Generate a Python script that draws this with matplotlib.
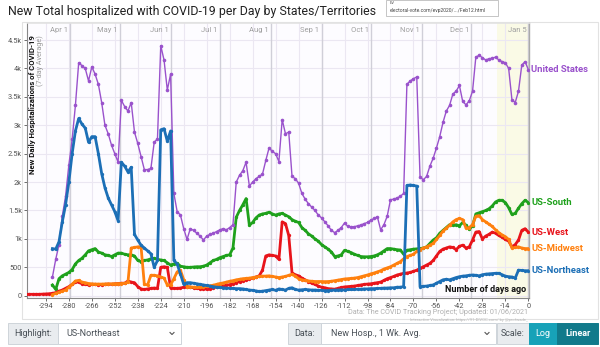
import numpy as np
import matplotlib.pyplot as plt
from matplotlib.patches import Rectangle
from matplotlib.lines import Line2D
import matplotlib.transforms as mtransforms

plt.rcParams['font.family'] = ['Roboto', 'DejaVu Sans']

nan = float('nan')
days = list(range(-306, 1, 2))

united_states = [nan]*8 + [330, 640,
    900, 1400, 1750, 2300, 2750, 3350, 4100, 4050, 4000, 3780,
    4030, 3900, 3720, 3400, 3000, 2850, 2650, 2500, 2350, 3440,
    3330, 3250, 3400, 2880, 2680, 2450, 2220, 2220, 2240, 2700,
    2760, 4400, 4150, 3620, 3900, 1800, 1480, 1420, 1180, 990,
    1180, 1150, 1100, 1050, 980, 1050, 1080, 1100, 1130, 1160,
    1180, 1160, 1200, 1250, 2000, 2120, 2200, 2350, 1930, 2000,
    2060, 2100, 2140, 2380, 2600, 2540, 2500, 2360, 3100, 2850,
    2880, 2100, 2060, 1980, 1800, 1700, 1620, 1560, 1500, 1420,
    1370, 1300, 1230, 1150, 1110, 1150, 1200, 1280, 1220, 1210,
    1215, 1230, 1245, 1270, 1290, 1330, 1360, 1390, 1160, 1250,
    1400, 1690, 1700, 1720, 1750, 1800, 3720, 3780, 3820, 3850,
    2090, 2040, 2100, 2280, 2420, 2600, 2800, 3050, 3250, 3350,
    3550, 3600, 3700, 3420, 3360, 3430, 3600, 4200, 4230, 4190,
    4150, 4170, 4180, 4200, 4150, 4120, 4100, 4000, 3450, 3400,
    3600, 4060, 4120, 3980]

us_northeast = [nan]*8 + [830, 820,
    950, 1300, 1600, 2000, 2500, 2900, 3120, 3020, 2950, 2700,
    2800, 2800, 2500, 2150, 1900, 1720, 1600, 1480, 1320, 2350,
    2280, 2180, 2260, 1080, 980, 890, 840, 790, 740, 500,
    620, 2920, 2940, 2720, 2900, 620, 560, 380, 200, 230,
    230, 220, 210, 200, 190, 180, 170, 160, 150, 145,
    140, 135, 130, 130, 125, 125, 120, 110, 100, 95,
    85, 75, 80, 90, 100, 110, 95, 120, 110, 100,
    130, 140, 110, 100, 105, 110, 105, 100, 100, 95,
    95, 90, 90, 95, 100, 100, 105, 100, 110, 110,
    110, 115, 115, 120, 120, 125, 125, 130, 130, 135,
    135, 140, 140, 150, 150, 160, 1940, 1950, 1940, 1930,
    160, 165, 170, 180, 190, 220, 250, 280, 290, 280,
    300, 320, 335, 345, 350, 360, 365, 360, 350, 370,
    380, 385, 390, 395, 395, 370, 345, 335, 330, 310,
    450, 445, 440, 440]

us_south = [nan]*8 + [190, 110,
    300, 350, 380, 410, 460, 560, 620, 660, 720, 790,
    810, 830, 770, 750, 720, 710, 690, 720, 750, 750,
    730, 720, 720, 700, 620, 600, 620, 630, 650, 660,
    640, 630, 620, 580, 540, 560, 570, 520, 510, 500,
    500, 505, 510, 510, 520, 540, 580, 620, 640, 670,
    690, 710, 720, 840, 1380, 1500, 1600, 1710, 1240, 1290,
    1370, 1420, 1440, 1450, 1470, 1440, 1420, 1440, 1450, 1420,
    1390, 1340, 1310, 1290, 1200, 1150, 1090, 1050, 1000, 960,
    900, 860, 820, 770, 690, 700, 720, 800, 780, 760,
    730, 710, 690, 685, 685, 690, 700, 720, 750, 790,
    830, 830, 820, 810, 805, 730, 800, 810, 820, 825,
    830, 840, 860, 920, 980, 1020, 1100, 1150, 1200, 1250,
    1240, 1250, 1230, 1290, 1240, 1170, 1230, 1440, 1460, 1480,
    1500, 1530, 1580, 1650, 1680, 1680, 1640, 1550, 1430, 1450,
    1540, 1620, 1680, 1640]

us_west = [25, 25, 25, 25, 25, 28, 30, 35, 42, 55,
    80, 100, 130, 160, 200, 240, 240, 210, 200, 190,
    200, 200, 190, 195, 200, 205, 200, 210, 215, 220,
    220, 260, 240, 230, 160, 120, 110, 120, 130, 135,
    130, 500, 510, 500, 140, 130, 130, 135, 150, 160,
    150, 140, 130, 125, 120, 115, 120, 140, 155, 165,
    175, 185, 195, 210, 230, 250, 265, 280, 300, 310,
    330, 350, 450, 700, 720, 710, 700, 640, 1300, 1270,
    1060, 400, 370, 350, 310, 280, 250, 220, 200, 170,
    150, 140, 125, 120, 115, 130, 145, 155, 160, 165,
    170, 180, 190, 200, 205, 210, 220, 230, 240, 270,
    300, 320, 340, 365, 380, 395, 400, 410, 430, 450,
    480, 510, 540, 570, 620, 700, 780, 820, 840, 860,
    850, 810, 870, 890, 840, 860, 980, 1120, 1130, 1000,
    1050, 1080, 1120, 1100, 1060, 1030, 990, 960, 860, 900,
    980, 1150, 1180, 1120]

us_midwest = [nan]*8 + [20, 40,
    60, 80, 100, 150, 200, 260, 270, 240, 230, 215,
    210, 205, 205, 205, 208, 210, 210, 212, 215, 215,
    220, 235, 840, 850, 860, 860, 200, 190, 360, 360,
    350, 330, 310, 190, 190, 300, 420, 450, 280, 160,
    155, 150, 150, 150, 155, 165, 175, 185, 200, 215,
    225, 240, 255, 265, 280, 290, 300, 305, 310, 320,
    330, 340, 345, 345, 350, 340, 330, 320, 330, 340,
    360, 375, 345, 300, 280, 270, 260, 255, 250, 250,
    250, 248, 250, 255, 265, 275, 285, 295, 300, 305,
    310, 320, 335, 350, 365, 385, 400, 420, 440, 470,
    490, 510, 540, 570, 600, 650, 690, 710, 730, 780,
    810, 840, 860, 890, 920, 990, 1060, 1140, 1190, 1240,
    1300, 1340, 1360, 1340, 1190, 1200, 1250, 1400, 1410, 1340,
    1300, 1260, 1220, 1160, 1110, 1070, 1040, 990, 840, 850,
    860, 840, 830, 830]

x_ticks = list(range(-294, 1, 14))
y_ticks = [0, 500, 1000, 1500, 2000, 2500, 3000, 3500, 4000, 4500]
y_tick_labels = ['0', '500', '1k', '1.5k', '2k', '2.5k', '3k', '3.5k', '4k', '4.5k']
month_days = [-279, -249, -218, -188, -157, -126, -96, -65, -35, 0]
month_labels = ['Apr 1', 'May 1', 'Jun 1', 'Jul 1', 'Aug 1', 'Sep 1', 'Oct 1', 'Nov 1', 'Dec 1', 'Jan 5']

# name, values, color, linewidth, markersize
series = [
    ('US-South', us_south, '#1fa11c', 2.0, 2.4),
    ('US-West', us_west, '#e8141b', 2.0, 2.4),
    ('US-Midwest', us_midwest, '#ff800e', 2.0, 2.4),
    ('United States', united_states, '#9a52cc', 1.0, 2.6),
    ('US-Northeast', us_northeast, '#1c6fb6', 2.0, 2.4),
]

W, H = 600, 347
fig = plt.figure(figsize=(W / 100, H / 100), dpi=100)

def fx(x):
    return x / W

def fy(y):
    return 1 - y / H

# chart panel border
fig.patches.append(Rectangle((fx(22), fy(319)), (598 - 22) / W, (319 - 22) / H,
                             transform=fig.transFigure, facecolor='none',
                             edgecolor='#e2e2e2', lw=0.8, zorder=-1))

ax = fig.add_axes([fx(27), fy(298), (529 - 27) / W, (298 - 23) / H])
ax.set_zorder(2)
ax.set_facecolor('#fdfcff')
ax.set_xlim(-305.5, 0.4)
ax.set_ylim(-40, 4800)

ax.axvspan(-19, 0.4, color='#fafae6', zorder=0, lw=0)
for d in x_ticks:
    ax.axvline(d, color='#ebe7f2', lw=0.8, zorder=1)
for v in y_ticks:
    ax.axhline(v, color='#ebe7f2', lw=0.8, zorder=1)
for d in month_days:
    ax.axvline(d, color='#d0cfd8', lw=1.0, zorder=1)

trans = mtransforms.blended_transform_factory(ax.transData, ax.transAxes)
for d, lab in zip(month_days, month_labels):
    ax.text(d - 1.3, 0.975, lab, transform=trans, ha='right', va='center',
            fontsize=5.5, color='#a0a0a0')

x = np.array(days)
for name, vals, col, lw, ms in series:
    y = np.array(vals, dtype=float)
    ax.plot(x, y, color=col, lw=lw, marker='o', ms=ms, mew=0, zorder=3)
    last = y[~np.isnan(y)][-1]
    ax.text(1.8, last, name, color=col, fontsize=6.8, fontweight='bold',
            va='center', ha='left', clip_on=False)

ax.set_xticks(x_ticks)
ax.set_xticklabels([str(t) for t in x_ticks])
ax.set_yticks(y_ticks)
ax.set_yticklabels(y_tick_labels)
ax.tick_params(axis='both', labelsize=5.3, colors='#555555', length=2.5, width=0.6, pad=1.2)
for s in ['left', 'bottom']:
    ax.spines[s].set_color('#888888')
    ax.spines[s].set_linewidth(0.8)
ax.spines['right'].set_color('#aaaaaa')
ax.spines['right'].set_linewidth(1.0)
ax.spines['top'].set_color('#e2e2e2')
ax.spines['top'].set_linewidth(0.6)

# y-label inside the plot
fig.text(fx(32.5), fy(35), 'New Daily Hospitalizations of COVID-19', rotation=90,
         ha='center', va='top', fontsize=5.6, fontweight='bold', color='#111111', zorder=10)
fig.text(fx(40.5), fy(35), '(7-day Average)', rotation=90, ha='center', va='top',
         fontsize=5.2, color='#999999', zorder=10)

fig.text(fx(526), fy(289), 'Number of days ago', ha='right', va='center',
         fontsize=6.5, fontweight='bold', color='#111111', zorder=10)

# title
fig.text(fx(8), fy(12), 'New Total hospitalized with COVID-19 per Day by States/Territories',
         ha='left', va='center', fontsize=8.9, color='#222222')

# browser tooltip overlay
fig.patches.append(Rectangle((fx(386), fy(16)), (498 - 386) / W, 16 / H,
                             transform=fig.transFigure, facecolor='white',
                             edgecolor='#bbbbbb', lw=0.6, zorder=5))
fig.text(fx(390), fy(3), 'EV', fontsize=3.0, color='#555555', va='center', zorder=6)
fig.text(fx(390), fy(10.5), 'electoral-vote.com/evp2020/.../Feb12.html', fontsize=3.6,
         color='#444444', va='center', zorder=6)

# source lines
fig.text(fx(528), fy(313), 'Data: The COVID Tracking Project; Updated: 01/06/2021',
         ha='right', va='center', fontsize=5.2, color='#b0b0b0')
fig.text(fx(528), fy(319.5), 'Interactive Visualization: https://91-DIVOC.com/ by @profwade_',
         ha='right', va='center', fontsize=3.0, color='#b8b8b8')

# control bar
def box(x0, x1, face, edge='#ced4da'):
    fig.patches.append(Rectangle((fx(x0), fy(344)), (x1 - x0) / W, (344 - 323) / H,
                                 transform=fig.transFigure, facecolor=face,
                                 edgecolor=edge, lw=0.7, zorder=5))

def chevron(xc):
    fig.lines.append(Line2D([fx(xc - 2), fx(xc), fx(xc + 2)],
                            [fy(332.5), fy(334.5), fy(332.5)],
                            transform=fig.transFigure, color='#555555', lw=0.8, zorder=6))

box(8, 58, '#e9ecef')
fig.text(fx(14), fy(333.5), 'Highlight:', fontsize=6.5, color='#495057', va='center', zorder=6)
box(58, 181, 'white')
fig.text(fx(66), fy(333.5), 'US-Northeast', fontsize=6.5, color='#495057', va='center', zorder=6)
chevron(172)
box(288, 321, '#e9ecef')
fig.text(fx(294), fy(333.5), 'Data:', fontsize=6.5, color='#495057', va='center', zorder=6)
box(321, 496, 'white')
fig.text(fx(331), fy(333.5), 'New Hosp., 1 Wk. Avg.', fontsize=6.5, color='#495057', va='center', zorder=6)
chevron(487)
box(497, 529, '#e9ecef')
fig.text(fx(513), fy(333.5), 'Scale:', fontsize=6.5, color='#495057', va='center', ha='center', zorder=6)
box(529, 557, '#17a2b8', '#17a2b8')
fig.text(fx(543), fy(333.5), 'Log', fontsize=6.5, color='white', va='center', ha='center', zorder=6)
box(557, 598, '#117a8b', '#117a8b')
fig.text(fx(577.5), fy(333.5), 'Linear', fontsize=6.5, color='white', va='center', ha='center',
         fontweight='bold', zorder=6)

fig.savefig('out.png', dpi=100)
